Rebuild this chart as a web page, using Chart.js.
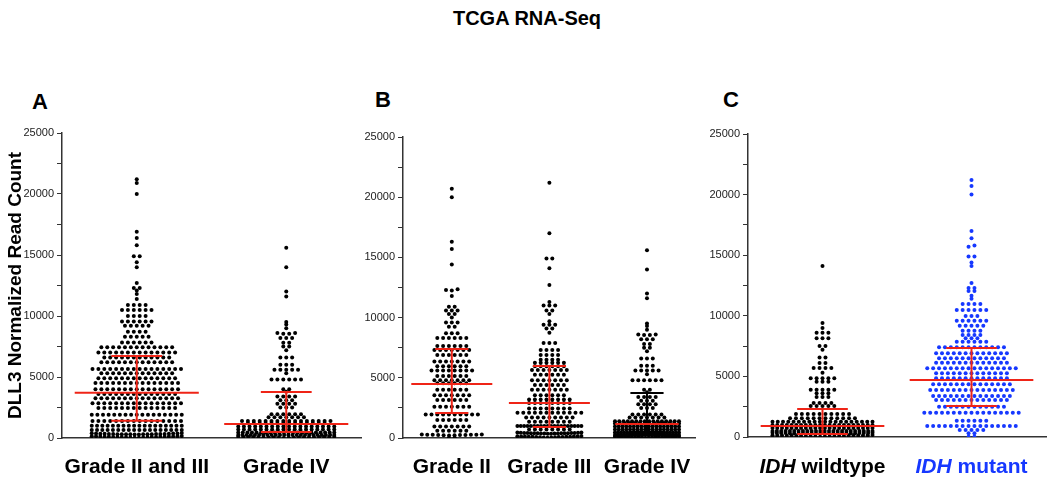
<!DOCTYPE html>
<html>
<head>
<meta charset="utf-8">
<script src="https://cdn.jsdelivr.net/npm/chart.js@4.4.0/dist/chart.umd.min.js"></script>
<style>
  body { margin: 0; background: #fff; }
  #wrap { position: relative; width: 1050px; height: 479px; overflow: hidden; font-family: "Liberation Sans", Arial, Helvetica, sans-serif; }
  .t { position: absolute; font-weight: bold; color: #000; white-space: nowrap; }
  canvas { position: absolute; }
</style>
</head>
<body>
<div id="wrap">
  <div class="t" style="left:0;width:1054px;text-align:center;top:7px;font-size:20px;line-height:22px">TCGA RNA-Seq</div>
  <div class="t" style="left:32px;top:90px;font-size:22px;line-height:24px">A</div>
  <div class="t" style="left:375px;top:88px;font-size:22px;line-height:24px">B</div>
  <div class="t" style="left:723px;top:88px;font-size:22px;line-height:24px">C</div>
  <canvas id="chartA" width="365" height="359" style="left:0;top:120px"></canvas>
  <canvas id="chartB" width="350" height="359" style="left:358px;top:120px"></canvas>
  <canvas id="chartC" width="347" height="359" style="left:703px;top:120px"></canvas>
</div>
<script>
// ---- data ----
const panelA_categories = ['Grade II and III', 'Grade IV'];
const panelB_categories = ['Grade II', 'Grade III', 'Grade IV'];
const panelC_categories = ['IDH wildtype', 'IDH mutant'];
const yTickLabels = [0, 5000, 10000, 15000, 20000, 25000];

const gradeIIandIII = [
  21200, 20900, 20000, 16900, 16400, 15800, 14900, 14900, 14400, 14000,
  12700, 12300, 12300, 12100, 11800, 11400,
  10900, 10900, 10900, 10900,
  10500, 10500, 10500, 10500, 10500, 10500,
  10000, 10000, 10000, 10000,
  9550, 9550, 9550, 9550, 9550, 9550,
  9200, 9200, 9200, 9200, 9200,
  8700, 8700, 8700, 8700,
  8300, 8300, 8300, 8300, 8300,
  7820, 7820, 7820, 7820, 7820, 7820,
  7440, 7440, 7440, 7440, 7440, 7440, 7440, 7440, 7440, 7440, 7440, 7440, 7440,
  7000, 7000, 7000, 7000, 7000, 7000, 7000, 7000, 7000, 7000, 7000, 7000, 7000, 7000,
  6600, 6600, 6600, 6600, 6600, 6600, 6600, 6600, 6600, 6600, 6600, 6600,
  6200, 6200, 6200, 6200, 6200, 6200, 6200, 6200, 6200, 6200, 6200, 6200, 6200,
  5650, 5650, 5650, 5650, 5650, 5650, 5650, 5650, 5650, 5650, 5650, 5650, 5650, 5650, 5650, 5650,
  5300, 5300, 5300, 5300, 5300, 5300, 5300, 5300, 5300, 5300, 5300, 5300, 5300,
  4900, 4900, 4900, 4900, 4900, 4900, 4900, 4900, 4900, 4900, 4900, 4900, 4900, 4900,
  4500, 4500, 4500, 4500, 4500, 4500, 4500, 4500, 4500, 4500, 4500, 4500, 4500, 4500, 4500,
  4000, 4000, 4000, 4000, 4000, 4000, 4000, 4000, 4000, 4000, 4000, 4000, 4000, 4000, 4000,
  3600, 3600, 3600, 3600, 3600, 3600, 3600, 3600, 3600, 3600, 3600, 3600, 3600, 3600,
  3250, 3250, 3250, 3250, 3250, 3250, 3250, 3250, 3250, 3250, 3250, 3250, 3250, 3250, 3250,
  2850, 2850, 2850, 2850, 2850, 2850, 2850, 2850, 2850, 2850, 2850, 2850, 2850, 2850, 2850, 2850,
  2450, 2450, 2450, 2450, 2450, 2450, 2450, 2450, 2450, 2450, 2450, 2450, 2450, 2450,
  1900, 1900, 1900, 1900, 1900, 1900, 1900, 1900, 1900, 1900, 1900, 1900, 1900, 1900, 1900, 1900, 1900,
  1400, 1400, 1400, 1400, 1400, 1400, 1400, 1400, 1400, 1400, 1400, 1400, 1400, 1400, 1400, 1400,
  1000, 1000, 1000, 1000, 1000, 1000, 1000, 1000, 1000, 1000, 1000, 1000, 1000, 1000, 1000, 1000, 1000, 1000,
  650, 650, 650, 650, 650, 650, 650, 650, 650, 650, 650, 650, 650, 650, 650, 650, 650, 650,
  300, 310, 330, 290, 360, 320, 310, 340, 300, 370, 320, 310, 350, 290, 330, 380, 310, 320, 360, 300, 340, 410,
  20, 40, 60, 90, 110, 130, 150, 80, 100, 120, 140, 70, 50, 30, 160, 100, 90, 120, 110, 60, 140, 80
];

const gradeIV = [
  15600, 14000, 12000, 11600, 9500, 9300, 9000,
  8600, 8550, 8550, 8600, 8200, 8200, 8200,
  7800, 7800, 7500, 7500, 7200,
  6600, 6600, 6600, 6000, 6000, 6000,
  5600, 5600, 5600, 5600, 5600, 5300,
  4800, 4800, 4800, 4800, 4800, 4800,
  4000, 4000, 3800,
  3400, 3400, 3400, 3400, 3100, 3100, 3100,
  2800, 2800, 2800, 2800, 2500, 2500, 2500,
  1950, 1950, 1950, 1950, 1950, 1950,
  1700, 1700, 1700, 1700, 1700, 1700, 1700,
  1400, 1400, 1400, 1400, 1400, 1400, 1400, 1400, 1400, 1400, 1400, 1400, 1400, 1400, 1400, 1400,
  1200, 1200, 1200, 1200, 1200, 1200, 1200, 1200, 1200, 1200, 1200, 1200, 1200, 1200,
  950, 950, 950, 950, 950, 950, 950, 950, 950, 950, 950, 950, 950, 950, 950, 950, 950, 950,
  700, 700, 700, 700, 700, 700, 700, 700, 700, 700, 700, 700, 700, 700, 700, 700, 700, 700,
  450, 450, 450, 450, 450, 450, 450, 450, 450, 450, 450, 450, 450, 450, 450, 450, 450, 450, 450, 450, 450, 450,
  250, 250, 250, 250, 250, 250, 250, 250, 250, 250, 250, 250, 250, 250, 250, 250, 250, 250, 250, 250, 250, 250, 250, 250,
  5, 15, 30, 35, 50, 55, 60, 70, 80, 85, 90, 100, 110, 115, 120, 25, 45, 65, 75, 95
];

const gradeII = [
  20700, 20000, 16300, 15700, 14400,
  12350, 12300, 12250, 11800,
  10900, 10900, 10600, 10600, 10600, 10300, 10300, 10000,
  9600, 9600, 9600, 9250, 9250,
  8700, 8700, 8700,
  8300, 8300, 8300, 8300, 8300, 8300,
  7650, 7650, 7650, 7650, 7650, 7650,
  7300, 7300, 7300, 7300, 7300, 7300, 7300,
  6900, 6900, 6900, 6900, 6900, 6900,
  6350, 6350, 6350, 6350, 6350, 6350, 6350,
  5950, 5950, 5950, 5950, 5950, 5950,
  5600, 5600, 5600, 5600, 5600, 5600, 5600, 5600,
  5150, 5150, 5150, 5150, 5150, 5150,
  4800, 4800, 4800, 4800, 4800, 4800, 4800,
  4550, 4550, 4550, 4550, 4550, 4550,
  4000, 4000, 4000, 4000, 4000, 4000,
  3550, 3550, 3550, 3550, 3550, 3550, 3550,
  3150, 3150, 3150, 3150, 3150, 3150,
  2600, 2600, 2600, 2600, 2600, 2600, 2600,
  1950, 1950, 1950, 1950, 1950, 1950, 1950, 1950, 1950, 1950,
  1500, 1500, 1500, 1500, 1500, 1500,
  950, 950, 950, 950, 950, 950, 950,
  600, 600, 600, 600, 600, 600,
  220, 250, 240, 280, 260, 230, 300, 250, 270, 210, 290, 260,
  0, 30
];

const gradeIII = [
  21200, 17000, 14900, 14900, 14100, 12700, 11300,
  11000, 11000, 11000, 10600, 10600, 10300, 9700,
  9400, 9400, 9400, 9100, 9100, 8750,
  7900, 7900, 7900,
  7300, 7300, 7300, 7300,
  6900, 6900, 6900, 6900,
  6500, 6500, 6500, 6500,
  6250, 6250, 6250, 6250, 6250, 6250,
  5950, 5950, 5950, 5950, 5950, 5950,
  5650, 5650, 5650, 5650, 5650, 5650, 5650,
  5250, 5250, 5250, 5250, 5250, 5250,
  4800, 4800, 4800, 4800, 4800, 4800, 4800,
  4400, 4400, 4400, 4400, 4400, 4400,
  4000, 4000, 4000, 4000, 4000, 4000, 4000,
  3550, 3550, 3550, 3550, 3550, 3550,
  3200, 3200, 3200, 3200, 3200, 3200, 3200, 3200,
  2900, 2900, 2900, 2900, 2900, 2900, 2900, 2900,
  2450, 2450, 2450, 2450, 2450, 2450, 2450, 2450,
  2100, 2100, 2100, 2100, 2100, 2100, 2100, 2100, 2100, 2100, 2100, 2100,
  1700, 1700, 1700, 1700, 1700, 1700, 1700, 1700, 1700,
  1350, 1350, 1350, 1350, 1350, 1350, 1350, 1350,
  1000, 1000, 1000, 1000, 1000, 1000, 1000, 1000, 1000, 1000, 1000, 1000, 1000, 1000, 1000, 1000, 1000, 1000, 1000, 1000,
  700, 700, 700, 700, 700, 700, 700, 700,
  360, 380, 400, 420, 390, 410, 370, 450, 400, 430, 380, 460, 400, 350, 420, 390, 440, 410, 370, 400,
  30, 60, 90, 120, 150, 100, 80, 110, 140, 50, 130, 70, 100, 160, 40, 90, 120, 110
];

const idhWildtype = [
  14100, 9400, 9000, 8600, 8600, 8600, 8150, 8150, 8150, 7500, 7500, 7200,
  6550, 6550, 6100, 6100, 5700, 5700, 5700, 5700, 5300,
  4850, 4850, 4850, 4850, 4850, 4550, 4550, 4550,
  3900, 3900, 3900, 3900, 3900, 3600, 3600, 3600, 3300, 3300, 3300,
  2800, 2800, 2800, 2800, 2550, 2550, 2550, 2550, 2550,
  1900, 1900, 1900, 1900, 1900, 1900, 1900, 1900, 1900, 1900,
  1550, 1550, 1550, 1550, 1550, 1550, 1550, 1550, 1550, 1550, 1550, 1550,
  1250, 1250, 1250, 1250, 1250, 1250, 1250, 1250, 1250, 1250, 1250, 1250, 1250, 1250, 1250, 1250, 1250, 1250, 1250, 1250,
  1000, 1000, 1000, 1000, 1000, 1000, 1000, 1000, 1000, 1000, 1000, 1000, 1000, 1000, 1000, 1000, 1000, 1000, 1000, 1000, 1000, 1000,
  750, 750, 750, 750, 750, 750, 750, 750, 750, 750, 750, 750, 750, 750, 750, 750, 750, 750, 750, 750, 750, 750,
  500, 500, 500, 500, 500, 500, 500, 500, 500, 500, 500, 500, 500, 500, 500, 500, 500, 500, 500, 500, 500, 500, 500, 500,
  290, 300, 310, 300, 320, 290, 300, 330, 310, 300, 340, 290, 300, 320, 310, 350, 300, 290, 330, 310, 300, 360, 320, 300,
  30, 50, 70, 90, 110, 130, 150, 60, 80, 100, 120, 140, 40, 100, 160, 90, 110, 70, 130, 50, 120, 80
];

const idhMutant = [
  21200, 20700, 20000, 17000, 16400, 15800, 15700, 14900, 14900, 14400, 14100,
  12700, 12300, 12300, 12050, 12050, 11650, 11400,
  10970, 10970, 10970, 10970,
  10480, 10480, 10480, 10480, 10480, 10480,
  9990, 9990, 9990,
  9600, 9600, 9600, 9600, 9600, 9600,
  9180, 9180, 9180, 9180, 9180,
  8770, 8770, 8770, 8770,
  8420, 8420, 8420, 8420,
  8140, 8140, 8140,
  7860, 7860, 7860, 7860, 7860, 7860,
  7400, 7400, 7400, 7400, 7400, 7400, 7400, 7400, 7400, 7400, 7400, 7400,
  6900, 6900, 6900, 6900, 6900, 6900, 6900, 6900, 6900, 6900, 6900, 6900, 6900,
  6490, 6490, 6490, 6490, 6490, 6490, 6490, 6490, 6490, 6490, 6490, 6490,
  6130, 6130, 6130, 6130, 6130, 6130, 6130, 6130, 6130, 6130, 6130, 6130, 6130,
  5670, 5670, 5670, 5670, 5670, 5670, 5670, 5670, 5670, 5670, 5670, 5670, 5670, 5670, 5670, 5670,
  5250, 5250, 5250, 5250, 5250, 5250, 5250, 5250, 5250, 5250, 5250, 5250, 5250,
  4840, 4840, 4840, 4840, 4840, 4840, 4840, 4840, 4840, 4840, 4840, 4840, 4840,
  4350, 4350, 4350, 4350, 4350, 4350, 4350, 4350, 4350, 4350, 4350, 4350, 4350, 4350,
  3880, 3880, 3880, 3880, 3880, 3880, 3880, 3880, 3880, 3880, 3880, 3880, 3880, 3880, 3880,
  3380, 3380, 3380, 3380, 3380, 3380, 3380, 3380, 3380, 3380, 3380, 3380, 3380, 3380,
  3050, 3050, 3050, 3050, 3050, 3050, 3050, 3050, 3050, 3050, 3050, 3050, 3050,
  2500, 2500, 2500, 2500, 2500, 2500, 2500, 2500, 2500, 2500, 2500, 2500,
  2010, 2010, 2010, 2010, 2010, 2010, 2010, 2010, 2010, 2010, 2010, 2010, 2010, 2010, 2010, 2010, 2010,
  1350, 1350, 1350, 1350, 1350, 1350,
  910, 910, 910, 910, 910, 910, 910, 910, 910, 910, 910, 910, 910, 910, 910, 910,
  580, 580, 580, 580, 580,
  300, 300,
  25, 25
];

// median and interquartile range
const medianA = [3700, 1150], q1A = [1420, 490], q3A = [6720, 3770];
const medianB = [4480, 2900, 1160], q1B = [2080, 910, 500], q3B = [7390, 5980, 3740];
const medianC = [910, 4700], q1C = [250, 2560], q3C = [2310, 7340];

// ---- styling ----
const FONT = '"Liberation Sans", Arial, Helvetica, sans-serif';
const RED = '#ef2417';
const BLUE = '#1638ff';
const AXIS = '#333';
const ROW_TOL = 2;   // px: values closer than this share one swarm row
const DOT_R = 2.0;

// draws category labels with an italic first word (IDH ...)
const richLabels = {
  id: 'richLabels',
  afterDraw(chart, args, opts) {
    if (!opts.items) return;
    const ctx = chart.ctx, xs = chart.scales.x;
    const y = chart.chartArea.bottom + opts.offset;
    ctx.save();
    ctx.textBaseline = 'middle';
    ctx.textAlign = 'left';
    opts.items.forEach((label, i) => {
      const words = label.split(' ');
      const parts = [
        { t: words[0], f: 'italic bold 21px ' + FONT },
        { t: ' ' + words.slice(1).join(' '), f: 'bold 21px ' + FONT }
      ];
      let w = 0;
      parts.forEach(p => { ctx.font = p.f; w += ctx.measureText(p.t).width; });
      let x = xs.getPixelForValue(i + 0.5) - w / 2;
      ctx.fillStyle = opts.colors[i];
      parts.forEach(p => { ctx.font = p.f; ctx.fillText(p.t, x, y); x += ctx.measureText(p.t).width; });
    });
    ctx.restore();
  }
};

function lineSet(points, color, order) {
  return { data: points, showLine: true, borderColor: color, borderWidth: 2, borderCapStyle: 'butt',
           pointRadius: 0, fill: false, order: order };
}

function makePanel(cfg) {
  const n = cfg.categories.length;
  const datasets = [];
  const swarms = [];
  cfg.series.forEach((vals, i) => {
    const c = i + 0.5, mh = cfg.medHalf[i], ch = 0.17;
    datasets.push(lineSet([{ x: c - mh, y: cfg.median[i] }, { x: c + mh, y: cfg.median[i] }], RED, -1));
    datasets.push(lineSet([{ x: c, y: cfg.q1[i] }, { x: c, y: cfg.q3[i] }], cfg.barColors[i], 0));
    datasets.push(lineSet([{ x: c - ch, y: cfg.q3[i] }, { x: c + ch, y: cfg.q3[i] }], cfg.barColors[i], 0));
    datasets.push(lineSet([{ x: c - ch, y: cfg.q1[i] }, { x: c + ch, y: cfg.q1[i] }], cfg.barColors[i], 0));
    swarms.push({ index: datasets.length, values: vals, center: c, half: cfg.swarmHalf[i] });
    datasets.push({ data: vals.map(v => ({ x: c, y: v })), showLine: false, pointRadius: DOT_R,
                    pointBorderWidth: 0, pointBackgroundColor: cfg.dotColors[i], order: 1 });
  });

  const chart = new Chart(document.getElementById(cfg.id), {
    type: 'scatter',
    data: { datasets: datasets },
    plugins: [richLabels],
    options: {
      responsive: false,
      animation: false,
      events: [],
      layout: { padding: { top: cfg.padTop, right: cfg.padRight, left: 0, bottom: 0 } },
      plugins: {
        legend: { display: false },
        tooltip: { enabled: false },
        richLabels: cfg.rich ? { items: cfg.categories, colors: cfg.labelColors, offset: 30 } : {}
      },
      scales: {
        x: {
          type: 'linear', min: 0, max: n,
          afterBuildTicks: ax => { ax.ticks = cfg.categories.map((_, i) => ({ value: i + 0.5 })); },
          afterFit: ax => { ax.height = cfg.xHeight; },
          grid: { display: false, drawTicks: false },
          border: { display: true, color: AXIS, width: 1.5 },
          ticks: { display: !cfg.rich, autoSkip: false, maxRotation: 0, padding: 17, color: '#000',
                   font: { family: FONT, size: 21, weight: 'bold' },
                   callback: (v, i) => cfg.categories[i] }
        },
        y: {
          min: 0, max: 25000,
          afterFit: ax => { ax.width = cfg.yWidth; },
          grid: { display: true, drawOnChartArea: false, drawTicks: true, tickLength: 5, color: AXIS, lineWidth: 1 },
          border: { display: true, color: AXIS, width: 1.5 },
          ticks: { stepSize: 2500, autoSkip: false, padding: 3, color: '#222',
                   font: { family: FONT, size: 11 },
                   callback: v => yTickLabels.includes(v) ? String(v) : '' },
          title: { display: !!cfg.yTitle, text: cfg.yTitle || '', color: '#000',
                   font: { family: FONT, size: 19, weight: 'bold' }, padding: { top: 4, bottom: 4 } }
        }
      }
    }
  });

  // Prism-style swarm: group close values into rows, spread each row sideways
  const xs = chart.scales.x, ys = chart.scales.y;
  swarms.forEach(s => {
    const cx = xs.getPixelForValue(s.center);
    const sorted = s.values.slice().sort((a, b) => a - b);
    const rows = [];
    let cur = null;
    sorted.forEach(v => {
      const py = ys.getPixelForValue(v);
      if (!cur || cur.py0 - py > ROW_TOL) { cur = { py0: py, vals: [] }; rows.push(cur); }
      cur.vals.push(v);
    });
    const pts = [];
    rows.forEach(r => {
      const k = r.vals.length;
      const gap = k > 1 ? Math.min(cfg.dotGap, 2 * s.half / (k - 1)) : 0;
      const slots = [];
      for (let j = 0; j < k; j++) slots.push((j - (k - 1) / 2) * gap);
      slots.sort((a, b) => Math.abs(a) - Math.abs(b));
      r.vals.forEach((v, j) => pts.push({ x: xs.getValueForPixel(cx + slots[j]), y: v }));
    });
    chart.data.datasets[s.index].data = pts;
  });
  chart.update('none');
  return chart;
}

makePanel({
  id: 'chartA', categories: panelA_categories, series: [gradeIIandIII, gradeIV],
  median: medianA, q1: q1A, q3: q3A,
  padTop: 13, padRight: 2, yWidth: 62, xHeight: 41,
  swarmHalf: [45, 48], dotGap: 5.9, medHalf: [0.415, 0.415],
  barColors: [RED, RED], dotColors: ['#000', '#000'],
  yTitle: 'DLL3 Normalized Read Count'
});

makePanel({
  id: 'chartB', categories: panelB_categories, series: [gradeII, gradeIII, gradeIV],
  median: medianB, q1: q1B, q3: q3B,
  padTop: 17, padRight: 5, yWidth: 45, xHeight: 41,
  swarmHalf: [30, 32, 32], dotGap: 5.8, medHalf: [0.415, 0.415, 0.325],
  barColors: [RED, RED, '#000'], dotColors: ['#000', '#000', '#000']
});

makePanel({
  id: 'chartC', categories: panelC_categories, series: [idhWildtype, idhMutant],
  median: medianC, q1: q1C, q3: q3C,
  padTop: 14, padRight: 2, yWidth: 45, xHeight: 42,
  swarmHalf: [50, 49], dotGap: 5.9, medHalf: [0.415, 0.415],
  barColors: [RED, RED], dotColors: ['#000', BLUE],
  rich: true, labelColors: ['#000', BLUE]
});
</script>
</body>
</html>
